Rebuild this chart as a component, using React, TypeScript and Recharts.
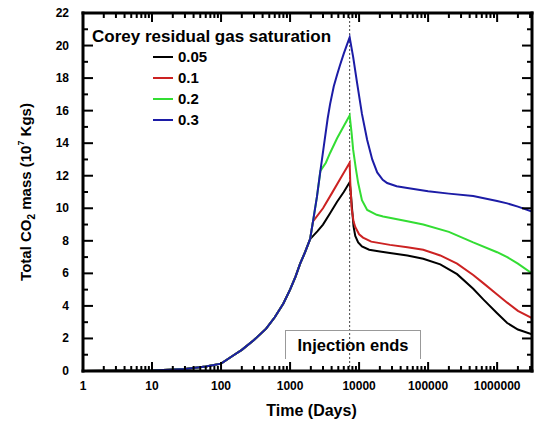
import { Label, Legend, Line, LineChart, ReferenceLine, XAxis, YAxis } from "recharts";

const FONT = '"Liberation Sans", Arial, sans-serif';

// shared build-up before the curves split (days, 10^7 kg)
const commonDays = [1, 3, 10, 30, 60, 100, 150, 200, 300, 450, 600, 800, 1000, 1200, 1400, 1650, 1950];
const commonMass = [0, 0.01, 0.03, 0.12, 0.27, 0.45, 0.95, 1.3, 1.9, 2.6, 3.3, 4.15, 5.0, 5.8, 6.6, 7.3, 8.1];

const upperDays = [2150, 2450, 2750];
const upperMass = [9.2, 10.7, 12.3];

const blackDays = [2500, 3000, 3800, 4800, 6000, 7300, 7600, 7900, 8300, 8800, 9700, 11000, 14000, 20000, 28000, 50000, 85000, 150000, 263000, 450000, 630000, 1000000, 1400000, 2000000, 3200000];
const blackMass = [8.6, 9.0, 9.7, 10.4, 11.0, 11.6, 10.9, 10.0, 8.9, 8.3, 7.9, 7.65, 7.45, 7.35, 7.25, 7.1, 6.9, 6.55, 5.95, 5.05, 4.4, 3.55, 2.95, 2.55, 2.25];

const redDays = [3000, 4000, 5500, 7300, 7450, 7800, 8300, 8800, 10000, 11400, 15000, 28000, 50000, 85000, 150000, 263000, 450000, 630000, 1000000, 1400000, 2000000, 3200000];
const redMass = [10.0, 10.9, 11.9, 12.8, 11.6, 10.0, 9.2, 8.85, 8.4, 8.2, 7.95, 7.75, 7.6, 7.45, 7.1, 6.6, 5.9, 5.4, 4.7, 4.2, 3.7, 3.25];

const greenDays = [3300, 3800, 4800, 5900, 7300, 7800, 8200, 9000, 9700, 11000, 13100, 18000, 22300, 50000, 85000, 200000, 450000, 1000000, 1400000, 2000000, 3200000];
const greenMass = [12.8, 13.4, 14.3, 15.0, 15.7, 14.6, 13.6, 12.4, 11.55, 10.5, 9.9, 9.6, 9.5, 9.2, 9.0, 8.55, 7.9, 7.3, 7.0, 6.6, 6.0];

const blueDays = [3100, 3500, 3800, 4300, 4800, 5300, 6000, 6600, 7300, 8200, 9350, 11000, 13100, 15500, 18300, 22000, 25500, 35000, 50000, 100000, 200000, 450000, 1000000, 1400000, 2000000, 3200000];
const blueMass = [13.9, 15.5, 16.4, 17.5, 18.2, 18.8, 19.5, 20.0, 20.5, 19.3, 17.7, 15.8, 14.2, 13.0, 12.2, 11.75, 11.55, 11.35, 11.25, 11.05, 10.9, 10.75, 10.45, 10.3, 10.1, 9.8];

const injectionEnd = 7300;
const xMajor = [1, 10, 100, 1000, 10000, 100000, 1000000];
const xMin = 1;
const xMax = 3200000;
const yMax = 22;
const yTicks = Array.from({ length: 23 }, (_, i) => i);

const xTicks: number[] = [];
xMajor.forEach((m) => {
	for (let k = 1; k <= 9; k++) if (m * k <= xMax) xTicks.push(m * k);
});

const toPoints = (days: number[], mass: number[]) => days.map((d, i) => ({ d, v: mass[i] }));

const blackSeries = toPoints([...commonDays, ...blackDays], [...commonMass, ...blackMass]);
const redSeries = toPoints([...commonDays, upperDays[0], ...redDays], [...commonMass, upperMass[0], ...redMass]);
const greenSeries = toPoints([...commonDays, ...upperDays, ...greenDays], [...commonMass, ...upperMass, ...greenMass]);
const blueSeries = toPoints([...commonDays, ...upperDays, ...blueDays], [...commonMass, ...upperMass, ...blueMass]);

// layout
const W = 537;
const H = 423;
const margin = { top: 13, right: 5, left: 23, bottom: 22 };
const yAxisW = 60;
const xAxisH = 30;
const plotW = W - margin.left - margin.right - yAxisW;
const plotH = H - margin.top - margin.bottom - xAxisH;

// inward tick lengths, converted from pixels to axis units
const decadePx = plotW / Math.log10(xMax / xMin);
const unitPx = plotH / yMax;
const xSpan = (px: number) => Math.pow(10, px / decadePx);
const ySpan = (px: number) => px / unitPx;

const tickText = { fontFamily: FONT, fontSize: 12, fontWeight: "bold" as const, fill: "#000" };

const BottomLabel = ({ x, y, payload }: any) =>
	xMajor.includes(payload.value) ? (
		<text x={x} y={y + 19} textAnchor="middle" {...tickText}>
			{payload.value}
		</text>
	) : null;

const LeftLabel = ({ x, y, payload }: any) =>
	payload.value % 2 === 0 ? (
		<text x={x - 14} y={y + 4} textAnchor="end" {...tickText}>
			{payload.value}
		</text>
	) : null;

const YTitle = ({ viewBox }: any) => {
	const cy = viewBox.y + viewBox.height / 2;
	return (
		<text
			transform={`translate(31,${cy}) rotate(-90)`}
			textAnchor="middle"
			fontFamily={FONT}
			fontSize={15}
			fontWeight="bold"
			fill="#000"
		>
			Total CO
			<tspan fontSize={10} dy={4}>
				2
			</tspan>
			<tspan dy={-4}> mass (10</tspan>
			<tspan fontSize={9} dy={-7}>
				7
			</tspan>
			<tspan dy={7}> Kgs)</tspan>
		</text>
	);
};

const XTitle = ({ viewBox }: any) => (
	<text
		x={viewBox.x + viewBox.width / 2 + 4}
		y={416}
		textAnchor="middle"
		fontFamily={FONT}
		fontSize={16}
		fontWeight="bold"
		fill="#000"
	>
		Time (Days)
	</text>
);

const LegendBox = ({ payload }: any) => (
	<div style={{ fontFamily: FONT, fontWeight: "bold", color: "#000" }}>
		<div style={{ fontSize: 17, lineHeight: "19px", whiteSpace: "nowrap" }}>Corey residual gas saturation</div>
		{(payload || []).map((p: any) => (
			<div key={p.value} style={{ display: "flex", alignItems: "center", height: 21, marginLeft: 61 }}>
				<span style={{ width: 20, height: 2, background: p.color, marginRight: 5 }} />
				<span style={{ fontSize: 15 }}>{p.value}</span>
			</div>
		))}
	</div>
);

const ids = { xAxisId: "main", yAxisId: "main" };
const tickStyle = { stroke: "#000", strokeWidth: 2, ifOverflow: "visible" as const };
const frameStyle = { stroke: "#000", strokeWidth: 3, strokeLinecap: "square" as const, ifOverflow: "visible" as const };

export default function App() {
	return (
		<div style={{ position: "absolute", left: 0, top: 0 }}>
			<LineChart width={W} height={H} margin={margin}>
				<XAxis
					xAxisId="main"
					dataKey="d"
					type="number"
					scale="log"
					domain={[xMin, xMax]}
					allowDataOverflow
					ticks={xTicks}
					interval={0}
					tickSize={0}
					tickMargin={0}
					tickLine={false}
					axisLine={false}
					tick={<BottomLabel />}
					height={xAxisH}
				>
					<Label content={<XTitle />} />
				</XAxis>
				<YAxis
					yAxisId="main"
					type="number"
					domain={[0, yMax]}
					ticks={yTicks}
					interval={0}
					tickSize={0}
					tickMargin={0}
					tickLine={false}
					axisLine={false}
					tick={<LeftLabel />}
					width={yAxisW}
				>
					<Label content={<YTitle />} />
				</YAxis>
				<ReferenceLine {...ids} x={injectionEnd} stroke="#444" strokeDasharray="2 2" strokeWidth={1} />
				<Line {...ids} data={blackSeries} dataKey="v" name="0.05" type="linear" stroke="#000000" strokeWidth={2} dot={false} isAnimationActive={false} />
				<Line {...ids} data={redSeries} dataKey="v" name="0.1" type="linear" stroke="#cc2222" strokeWidth={2} dot={false} isAnimationActive={false} />
				<Line {...ids} data={greenSeries} dataKey="v" name="0.2" type="linear" stroke="#33dd33" strokeWidth={2} dot={false} isAnimationActive={false} />
				<Line {...ids} data={blueSeries} dataKey="v" name="0.3" type="linear" stroke="#1c1ca6" strokeWidth={2} dot={false} isAnimationActive={false} />
				{xTicks.map((v) => {
					const len = ySpan(xMajor.includes(v) ? 9 : 5);
					return [
						<ReferenceLine key={`b${v}`} {...ids} {...tickStyle} segment={[{ x: v, y: 0 }, { x: v, y: len }]} />,
						<ReferenceLine key={`t${v}`} {...ids} {...tickStyle} segment={[{ x: v, y: yMax }, { x: v, y: yMax - len }]} />,
					];
				})}
				{yTicks.map((v) => {
					const f = xSpan(v % 2 === 0 ? 10 : 5);
					return [
						<ReferenceLine key={`l${v}`} {...ids} {...tickStyle} segment={[{ x: xMin, y: v }, { x: xMin * f, y: v }]} />,
						<ReferenceLine key={`r${v}`} {...ids} {...tickStyle} segment={[{ x: xMax / f, y: v }, { x: xMax, y: v }]} />,
					];
				})}
				<ReferenceLine {...ids} {...frameStyle} y={0} />
				<ReferenceLine {...ids} {...frameStyle} y={yMax} />
				<ReferenceLine {...ids} {...frameStyle} x={xMin} />
				<ReferenceLine {...ids} {...frameStyle} x={xMax} />
				<Legend
					layout="vertical"
					align="center"
					verticalAlign="middle"
					wrapperStyle={{ left: 92, top: 27, width: "auto" }}
					content={<LegendBox />}
				/>
			</LineChart>
			<div
				style={{
					position: "absolute",
					left: 285,
					top: 330,
					width: 134,
					height: 28,
					borderTop: "1px solid #999",
					borderLeft: "1px solid #999",
					borderRight: "1px solid #999",
					fontFamily: FONT,
					fontSize: 16.5,
					fontWeight: "bold",
					textAlign: "center",
					lineHeight: "28px",
					color: "#000",
				}}
			>
				Injection ends
			</div>
		</div>
	);
}
